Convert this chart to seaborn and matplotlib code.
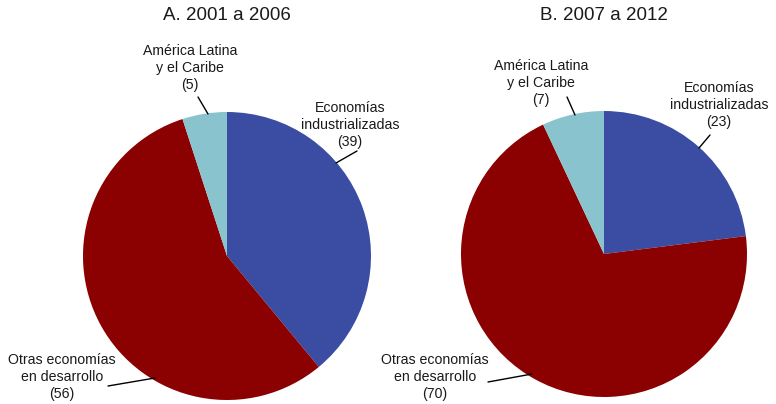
import matplotlib
matplotlib.use("Agg")
import matplotlib.pyplot as plt
from matplotlib.lines import Line2D
import seaborn as sns

sns.set_theme(style="white")
plt.rcParams["font.family"] = ["Liberation Sans", "DejaVu Sans"]

# Shares of the total by region (percent), clockwise from 12 o'clock
regions = ["Economías\nindustrializadas", "Otras economías\nen desarrollo", "América Latina\ny el Caribe"]
shares_2001_2006 = [39, 56, 5]
shares_2007_2012 = [23, 70, 7]
titles = ["A. 2001 a 2006", "B. 2007 a 2012"]
colors = ["#3A4DA3", "#8B0000", "#89C3CE"]

W, H = 776, 404
fig = plt.figure(figsize=(W / 100, H / 100), dpi=100)


def px(x, y):
    return x / W, 1 - y / H


def pie_axes(cx, cy, r):
    return fig.add_axes([(cx - r) / W, (H - cy - r) / H, 2 * r / W, 2 * r / H])


def label(x, y, name, value):
    fig.text(*px(x, y), f"{name}\n({value})", ha="center", va="center",
             fontsize=10.2, color="#1a1a1a", linespacing=1.3)


def leader(x0, y0, x1, y1):
    a, b = px(x0, y0), px(x1, y1)
    fig.add_artist(Line2D([a[0], b[0]], [a[1], b[1]], color="black", lw=1.0))


panels = [
    dict(center=(227, 256, 144), values=shares_2001_2006, title_x=227,
         labels=[(350, 125), (62, 377), (190, 68)],
         leaders=[((357, 151), (336, 163)), ((108, 386), (155, 378)), ((198, 97), (208, 114))]),
    dict(center=(604, 254, 143), values=shares_2007_2012, title_x=604,
         labels=[(719, 105), (435, 377), (541, 83)],
         leaders=[((710, 135), (699, 148)), ((488, 382), (532, 374)), ((567, 97), (575, 115))]),
]

for panel, title in zip(panels, titles):
    ax = pie_axes(*panel["center"])
    ax.pie(panel["values"], colors=colors, startangle=90, counterclock=False,
           radius=1, wedgeprops=dict(linewidth=0))
    ax.set_xlim(-1, 1)
    ax.set_ylim(-1, 1)
    ax.set_aspect("equal")
    ax.axis("off")
    fig.text(*px(panel["title_x"], 16), title, ha="center", va="center",
             fontsize=13.5, color="#1a1a1a")
    for (lx, ly), name, val in zip(panel["labels"], regions, panel["values"]):
        label(lx, ly, name, val)
    for (p0, p1) in panel["leaders"]:
        leader(*p0, *p1)

fig.savefig("out.png", dpi=100, facecolor="white")
